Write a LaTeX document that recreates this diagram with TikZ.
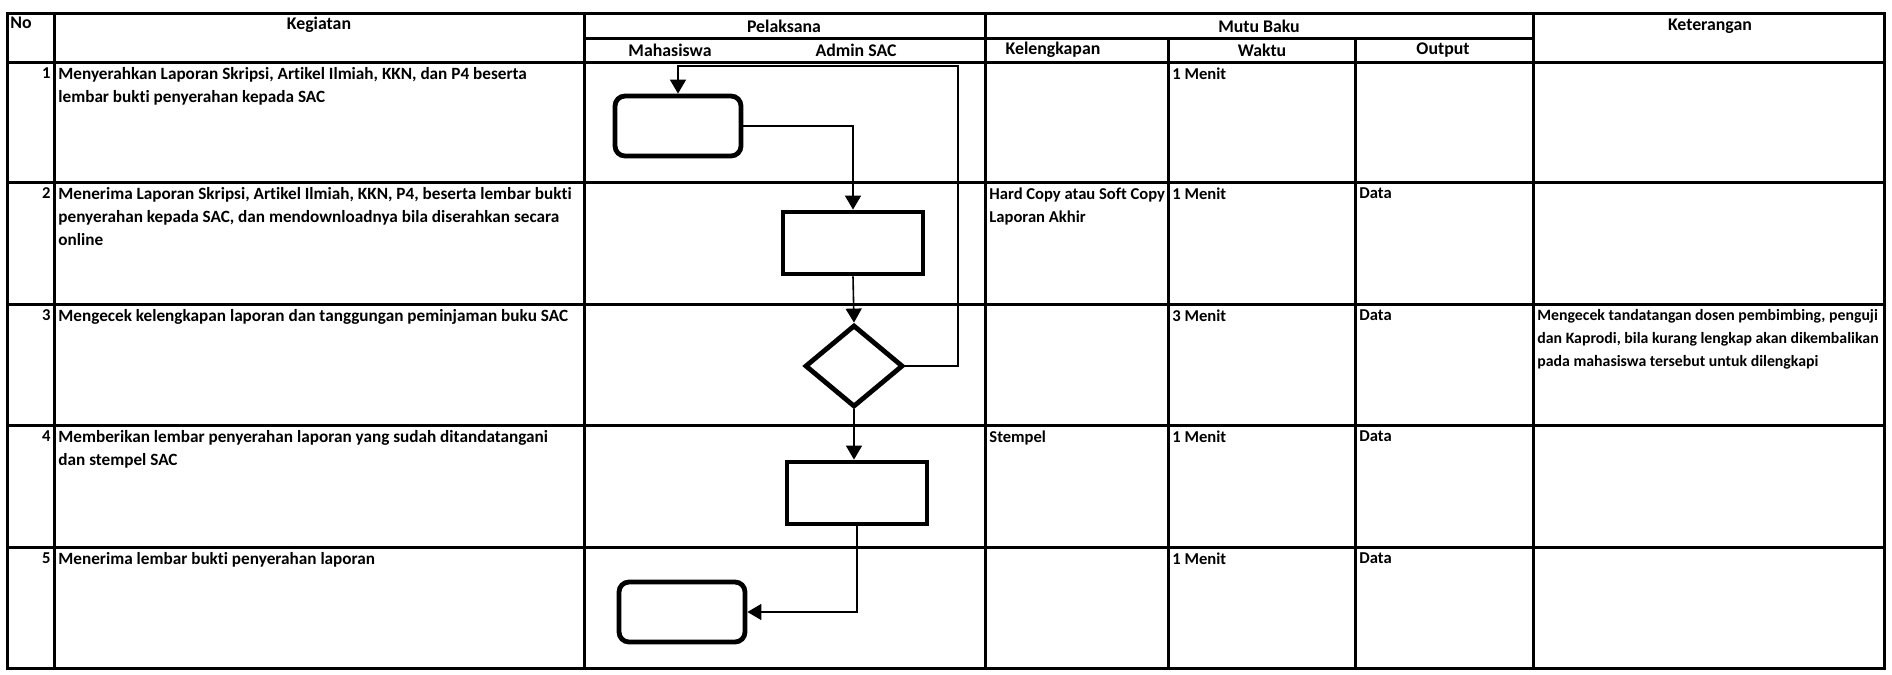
\documentclass[tikz,border=0pt]{standalone}
\usepackage{fontspec}
\setmainfont{Carlito}[Ligatures=NoCommon]
\usetikzlibrary{positioning,shapes.geometric,arrows.meta}

\newcommand\tablefont{\fontsize{8.3}{11.6}\selectfont\bfseries}

\begin{document}
\begin{tikzpicture}[x=0.5pt, y=-0.5pt,
    grid/.style={line width=1.5pt},
    term/.style={rectangle, rounded corners=5pt, draw, line width=2.4pt, minimum width=63pt, minimum height=30pt, inner sep=0pt},
    proc/.style={rectangle, draw, line width=2.4pt, minimum width=70pt, minimum height=31pt, inner sep=0pt},
    cek/.style={diamond, draw, line width=2.4pt, minimum width=49pt, minimum height=41pt, inner sep=0pt},
    flow/.style={line width=0.8pt, -{Triangle[width=8pt,length=7pt]}},
    cell/.style={anchor=north west, align=left, inner sep=0pt, font=\tablefont},
    keg/.style={cell, font=\fontsize{8.6}{11.6}\selectfont\bfseries},
    note/.style={cell, font=\fontsize{7.9}{11.6}\selectfont\bfseries},
    nr/.style={anchor=north east, inner sep=0pt, font=\tablefont},
    head/.style={inner sep=0pt, font=\fontsize{8.9}{11}\selectfont\bfseries}
]
\useasboundingbox (0,0) rectangle (1892,675);

% table
\draw[grid] (7,13) rectangle (1884,668);
\draw[grid] (7,62) -- (1884,62);
\foreach \y in {182,304,425,547}
  \draw[grid] (7,\y) -- (1884,\y);
\draw[grid] (584,38) -- (1533,38);
\foreach \x in {54,584,985,1533}
  \draw[grid] (\x,13) -- (\x,668);
\foreach \x in {1168,1355}
  \draw[grid] (\x,38) -- (\x,668);

% header
\node [head, anchor=north west] (no) at (10,17) {No};
\node [head] (kgt) at (319,25) {Kegiatan};
\node [head] (pel) at (784,26) {Pelaksana};
\node [head] (mhs) at (670,50) {Mahasiswa};
\node [head] (adm) at (856,50) {Admin SAC};
\node [head] (mutu) at (1259,26) {Mutu Baku};
\node [head] (kel) at (1053,50) {Kelengkapan};
\node [head] (wkt) at (1262,50) {Waktu};
\node [head] (outp) at (1443,50) {Output};
\node [head] (ket) at (1710,26) {Keterangan};

% row 1
\node [nr] (n1) at (51,67) {1};
\node [keg] (k1) at (58,67) {Menyerahkan Laporan Skripsi, Artikel Ilmiah, KKN, dan P4 beserta\\lembar bukti penyerahan kepada SAC};
\node [cell] (w1) at (1172,67) {1 Menit};

% row 2
\node [nr] (n2) at (51,187) {2};
\node [keg] (k2) at (58,187) {Menerima Laporan Skripsi, Artikel Ilmiah, KKN, P4, beserta lembar bukti\\penyerahan kepada SAC, dan mendownloadnya bila diserahkan secara\\online};
\node [cell] (l2) at (989,187) {Hard Copy atau Soft Copy\\Laporan Akhir};
\node [cell] (w2) at (1172,187) {1 Menit};
\node [cell] (o2) at (1359,187) {Data};

% row 3
\node [nr] (n3) at (51,309) {3};
\node [keg] (k3) at (58,309) {Mengecek kelengkapan laporan dan tanggungan peminjaman buku SAC};
\node [cell] (w3) at (1172,309) {3 Menit};
\node [cell] (o3) at (1359,309) {Data};
\node [note] (t3) at (1537,309) {Mengecek tandatangan dosen pembimbing, penguji\\dan Kaprodi, bila kurang lengkap akan dikembalikan\\pada mahasiswa tersebut untuk dilengkapi};

% row 4
\node [nr] (n4) at (51,430) {4};
\node [keg] (k4) at (58,430) {Memberikan lembar penyerahan laporan yang sudah ditandatangani\\dan stempel SAC};
\node [cell] (l4) at (989,430) {Stempel};
\node [cell] (w4) at (1172,430) {1 Menit};
\node [cell] (o4) at (1359,430) {Data};

% row 5
\node [nr] (n5) at (51,552) {5};
\node [keg] (k5) at (58,552) {Menerima lembar bukti penyerahan laporan};
\node [cell] (w5) at (1172,552) {1 Menit};
\node [cell] (o5) at (1359,552) {Data};

% flow
\node [term] (s1) at (678,126) {};
\node [proc] (p2) at (853,243) {};
\node [cek] (d3) at (854,366) {};
\node [proc] (p4) at (857,493) {};
\node [term] (s5) at (682,612) {};
\coordinate (balik) at (958,66);

\draw [flow] (s1.east) -| (p2.north);
\draw [flow] (p2.south) -- (d3.north);
\draw [flow] (d3.south) -- (d3.south |- p4.north);
\draw [flow] (p4.south) |- (s5.east);
\draw [flow] (d3.east) -| (balik) -| (s1.north);

\end{tikzpicture}
\end{document}
